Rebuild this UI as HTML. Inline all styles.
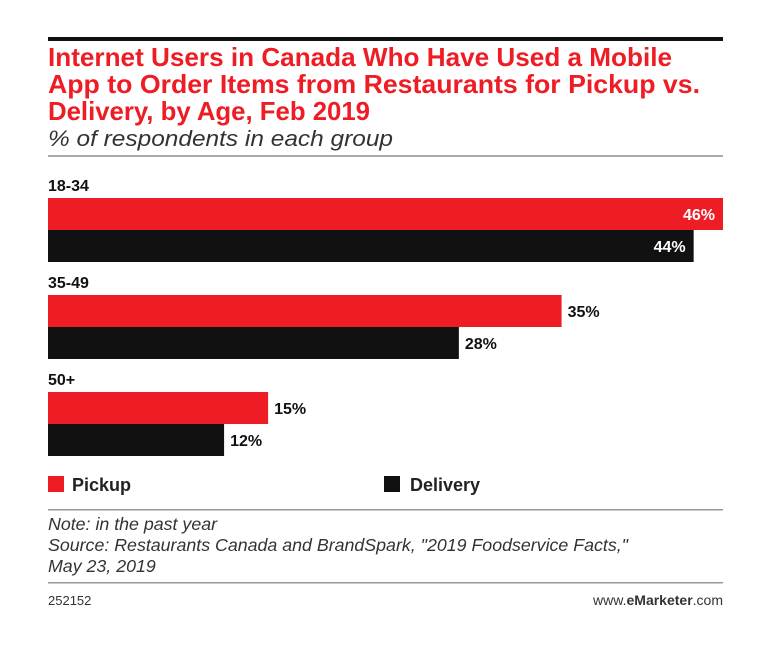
<!DOCTYPE html>
<html><head><meta charset="utf-8"><style>
html,body{margin:0;padding:0;background:#fff;}
svg{display:block;font-family:"Liberation Sans",sans-serif;}
</style></head><body>
<svg id="c" width="766" height="657" viewBox="0 0 766 657">
<rect x="48" y="37" width="675" height="4" fill="#111"/>
<g fill="#ee1c25" font-weight="bold" font-size="26">
<text x="48" y="66" textLength="624" lengthAdjust="spacingAndGlyphs">Internet Users in Canada Who Have Used a Mobile</text>
<text x="48" y="93" textLength="652" lengthAdjust="spacingAndGlyphs">App to Order Items from Restaurants for Pickup vs.</text>
<text x="48" y="120" textLength="322" lengthAdjust="spacingAndGlyphs">Delivery, by Age, Feb 2019</text>
</g>
<text x="48" y="146" font-size="22" font-style="italic" fill="#333" textLength="345" lengthAdjust="spacingAndGlyphs">% of respondents in each group</text>
<rect x="48" y="155" width="675" height="2" fill="#aaa"/>
<g id="bars"></g>
<rect x="48" y="476" width="16" height="16" fill="#ee1c25"/>
<text x="72" y="491" font-size="18" font-weight="bold" fill="#222">Pickup</text>
<rect x="384" y="476" width="16" height="16" fill="#111"/>
<text x="410" y="491" font-size="18" font-weight="bold" fill="#222">Delivery</text>
<rect x="48" y="509" width="675" height="1.5" fill="#999"/>
<g font-size="17.8" font-style="italic" fill="#333">
<text x="48" y="530">Note: in the past year</text>
<text x="48" y="551">Source: Restaurants Canada and BrandSpark, "2019 Foodservice Facts,"</text>
<text x="48" y="572">May 23, 2019</text>
</g>
<rect x="48" y="582" width="675" height="1.5" fill="#999"/>
<text x="48" y="605" font-size="13" fill="#333">252152</text>
<text x="723" y="605" font-size="14" fill="#333" text-anchor="end">www.<tspan font-weight="bold">eMarketer</tspan>.com</text>
</svg>
<script>
const categories=["18-34","35-49","50+"];
const pickup=[46,35,15];
const delivery=[44,28,12];
const x0=48, pxPer=675/46;
const xs=v=>v*pxPer;
const g=document.getElementById('bars');
const NS="http://www.w3.org/2000/svg";
function mk(t,a){const e=document.createElementNS(NS,t);for(const k in a)e.setAttribute(k,a[k]);return e;}
categories.forEach((c,i)=>{
  const top=170+i*97;
  const lab=mk('text',{x:x0,y:top+21,'font-size':16,'font-weight':'bold',fill:'#111'});
  
  
  lab.textContent=c;g.appendChild(lab);
  [[pickup[i],'#ee1c25',28,'pickup'],[delivery[i],'#111',60,'delivery']].forEach(([v,col,off,nm])=>{
    const w=xs(v);
    const r=mk('rect',{x:x0,y:top+off,width:w,height:32,fill:col});
    
    
    g.appendChild(r);
    const inside=x0+w+50>766-30;
    const t=mk('text',{x:inside?x0+w-8:x0+w+6,y:top+off+22,'font-size':16,'font-weight':'bold',fill:inside?'#fff':'#111','text-anchor':inside?'end':'start'});
    
    
    t.textContent=v+'%';g.appendChild(t);
  });
});
</script>
</body></html>
